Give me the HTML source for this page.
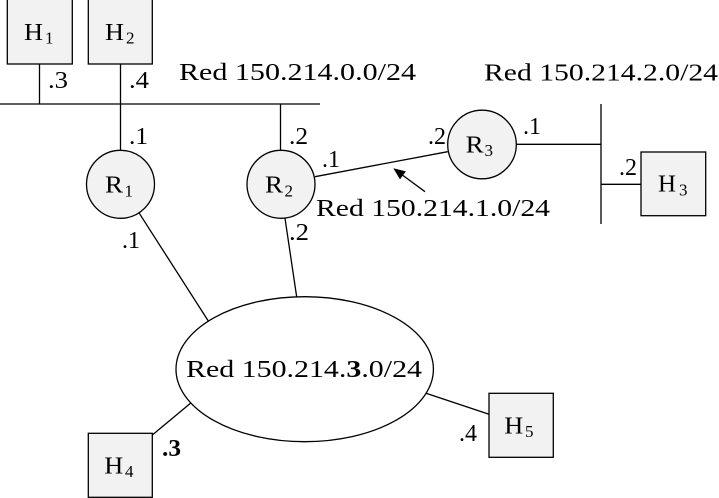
<!DOCTYPE html>
<html>
<head>
<meta charset="utf-8">
<style>
html,body{margin:0;padding:0;background:#fff;}
svg{display:block;}
svg text{font-family:"Liberation Serif",serif;font-size:24px;fill:#000;}
</style>
</head>
<body>
<svg width="719" height="498" viewBox="0 0 719 498" xmlns="http://www.w3.org/2000/svg">
<g stroke="#000" stroke-width="1.3" fill="none">
  <line x1="0" y1="104" x2="320" y2="104"/>
  <line x1="39.5" y1="64" x2="39.5" y2="104"/>
  <line x1="120.5" y1="64" x2="120.5" y2="150"/>
  <line x1="280.5" y1="104" x2="280.5" y2="150"/>
  <line x1="315" y1="176.7" x2="447.7" y2="151.7"/>
  <line x1="516" y1="144.3" x2="601" y2="144.3"/>
  <line x1="601" y1="104" x2="601" y2="224"/>
  <line x1="601" y1="184.3" x2="641" y2="184.3"/>
  <line x1="139.3" y1="213.3" x2="208.3" y2="321"/>
  <line x1="285" y1="218.3" x2="296.7" y2="297"/>
  <line x1="152.3" y1="435" x2="192.3" y2="401.7"/>
  <line x1="426" y1="393.3" x2="489" y2="414.3"/>
  <line x1="425" y1="191.7" x2="401" y2="174"/>
</g>
<polygon points="393.3,168.3 405.9,171.4 400,179.4" fill="#000"/>

<g fill="#f2f2f2" stroke="#000" stroke-width="1.3">
  <rect x="7.3" y="-1" width="65" height="65"/>
  <rect x="88.3" y="-1" width="64" height="65"/>
  <rect x="641" y="152" width="64.7" height="63.7"/>
  <rect x="88.3" y="433.3" width="64" height="64"/>
  <rect x="489" y="393.3" width="64.3" height="64"/>
  <circle cx="120.5" cy="184.3" r="34"/>
  <circle cx="281" cy="184.3" r="34"/>
  <circle cx="482" cy="144.5" r="34.3"/>
</g>
<ellipse cx="304.7" cy="369.2" rx="128.7" ry="72.5" fill="#fff" stroke="#000" stroke-width="1.3"/>

<!-- node letters -->
<text x="24" y="40" textLength="19" lengthAdjust="spacingAndGlyphs">H</text>
<text x="45" y="43.5" style="font-size:17px">1</text>
<text x="105" y="40" textLength="19" lengthAdjust="spacingAndGlyphs">H</text>
<text x="126" y="43.5" style="font-size:17px">2</text>
<text x="658" y="191.7" textLength="18" lengthAdjust="spacingAndGlyphs">H</text>
<text x="679" y="195.5" style="font-size:17px">3</text>
<text x="104.3" y="473.3" textLength="19" lengthAdjust="spacingAndGlyphs">H</text>
<text x="125" y="477" style="font-size:17px">4</text>
<text x="504.3" y="433.3" textLength="19" lengthAdjust="spacingAndGlyphs">H</text>
<text x="525" y="437" style="font-size:17px">5</text>
<text x="105" y="192.7" textLength="18" lengthAdjust="spacingAndGlyphs">R</text>
<text x="124.5" y="196.5" style="font-size:17px">1</text>
<text x="265" y="192.7" textLength="18" lengthAdjust="spacingAndGlyphs">R</text>
<text x="284.5" y="196.5" style="font-size:17px">2</text>
<text x="465.7" y="152.3" textLength="18" lengthAdjust="spacingAndGlyphs">R</text>
<text x="484.5" y="156" style="font-size:17px">3</text>

<!-- network labels -->
<text x="179" y="80" textLength="237" lengthAdjust="spacingAndGlyphs">Red 150.214.0.0/24</text>
<text x="484" y="80.5" textLength="234" lengthAdjust="spacingAndGlyphs">Red 150.214.2.0/24</text>
<text x="316" y="216" textLength="234" lengthAdjust="spacingAndGlyphs">Red 150.214.1.0/24</text>
<text x="186" y="377" textLength="236" lengthAdjust="spacingAndGlyphs">Red 150.214.<tspan style="font-weight:bold">3</tspan>.0/24</text>

<!-- interface labels -->
<text x="48" y="88" textLength="20" lengthAdjust="spacingAndGlyphs">.3</text>
<text x="129" y="88" textLength="20" lengthAdjust="spacingAndGlyphs">.4</text>
<text x="129" y="144" textLength="19" lengthAdjust="spacingAndGlyphs">.1</text>
<text x="289" y="144" textLength="19" lengthAdjust="spacingAndGlyphs">.2</text>
<text x="122" y="248" textLength="18" lengthAdjust="spacingAndGlyphs">.1</text>
<text x="289" y="240" textLength="20" lengthAdjust="spacingAndGlyphs">.2</text>
<text x="322" y="167" textLength="18" lengthAdjust="spacingAndGlyphs">.1</text>
<text x="428" y="144" textLength="18" lengthAdjust="spacingAndGlyphs">.2</text>
<text x="523" y="134" textLength="18" lengthAdjust="spacingAndGlyphs">.1</text>
<text x="619" y="175" textLength="18" lengthAdjust="spacingAndGlyphs">.2</text>
<text x="162" y="456" textLength="19" lengthAdjust="spacingAndGlyphs" style="font-weight:bold">.3</text>
<text x="459" y="441" textLength="18" lengthAdjust="spacingAndGlyphs">.4</text>
</svg>
</body>
</html>
